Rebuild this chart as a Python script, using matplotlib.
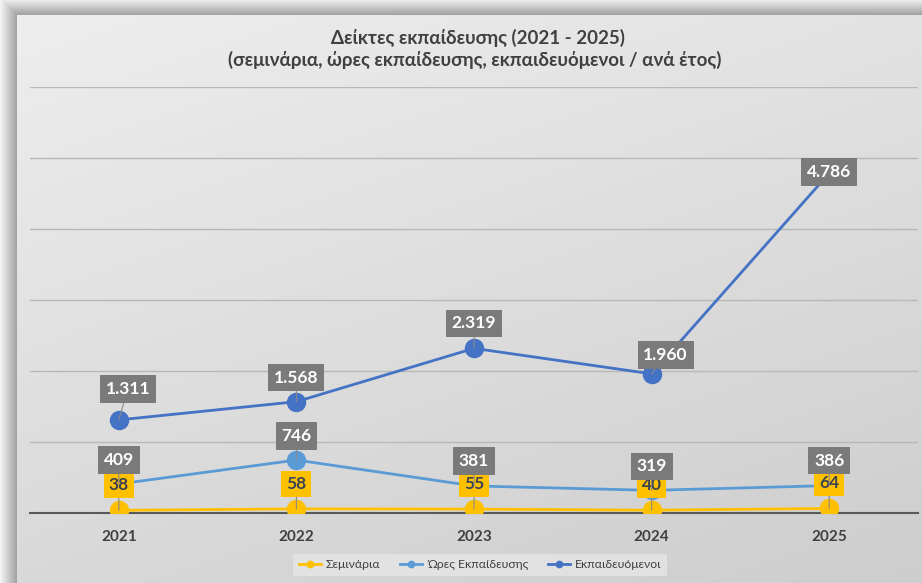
import numpy as np
import matplotlib.pyplot as plt

plt.rcParams['font.family'] = ['Lato', 'DejaVu Sans']

years = ['2021', '2022', '2023', '2024', '2025']
seminaria = [38, 58, 55, 40, 64]
ores = [409, 746, 381, 319, 386]
ekpaideuomenoi = [1311, 1568, 2319, 1960, 4786]

series_names = ['Σεμινάρια', 'Ώρες Εκπαίδευσης', 'Εκπαιδευόμενοι']
colors = ['#FFC000', '#5B9BD5', '#4472C4']

# label offsets in pixels (dx, dy)
off_sem = [(0, 25)] * 5
off_ores = [(0, 24), (0, 24), (0, 25), (0, 24), (0, 25)]
off_ekp = [(9, 31), (0, 24), (0, 25), (14, 19), (0, 1)]

W, H = 922, 583
fig = plt.figure(figsize=(W / 100, H / 100), dpi=100)

# background: shadowed frame + light gradient
bg = fig.add_axes([0, 0, 1, 1])
bg.set_axis_off()
yy, xx = np.mgrid[0:H, 0:W]
grad = 0.935 - 0.085 * (yy / H) - 0.045 * (xx / W)
fx, fy = 17, 15
dx = np.clip(fx - xx, 0, None)
dy = np.clip(fy - yy, 0, None)
d = np.maximum(dx, dy)
shadow = 0.62 + 0.34 * (d / 17.0)
img = np.where((xx >= fx) & (yy >= fy), grad, np.clip(shadow, 0, 0.97))
bg.imshow(np.dstack([img] * 3), extent=[0, W, H, 0], aspect='auto', zorder=0)
bg.set_xlim(0, W)
bg.set_ylim(H, 0)

ax = fig.add_axes([30 / W, 1 - 513 / H, (918 - 30) / W, (513 - 87) / H])
ax.set_facecolor('none')
x = np.arange(len(years))
ax.set_xlim(-0.5, len(years) - 0.5)
ax.set_ylim(0, 6000)
ax.set_yticks(np.arange(0, 6001, 1000))
ax.yaxis.grid(True, color='#b8b8b8', linewidth=1)
ax.set_axisbelow(True)
ax.tick_params(axis='y', left=False, labelleft=False)
ax.tick_params(axis='x', bottom=False, labelsize=11, colors='#404040', pad=9)
ax.set_xticks(x)
ax.set_xticklabels(years, fontweight='bold')
for s in ['top', 'right', 'left']:
    ax.spines[s].set_visible(False)
ax.spines['bottom'].set_color('#595959')
ax.spines['bottom'].set_linewidth(1.5)

all_vals = [seminaria, ores, ekpaideuomenoi]
offsets = [off_sem, off_ores, off_ekp]
for vals, name, c in zip(all_vals, series_names, colors):
    ax.plot(x, vals, color=c, linewidth=2, marker='o', markersize=13,
            label=name, zorder=3)


def fmt(v):
    return f'{v:,}'.replace(',', '.')


for k, (vals, offs) in enumerate(zip(all_vals, offsets)):
    for i, v in enumerate(vals):
        ox, oy = offs[i]
        if k == 0:
            box = dict(boxstyle='square,pad=0.28', fc='#FFC000', ec='none')
            tc = '#3a4352'
        else:
            box = dict(boxstyle='square,pad=0.33', fc='#7a7a7a', ec='none')
            tc = 'white'
        ax.annotate(fmt(v), xy=(i, v), xytext=(ox * 0.72, oy * 0.72),
                    textcoords='offset points', ha='center', va='center',
                    fontsize=12.5, fontweight='bold', color=tc, bbox=box,
                    arrowprops=dict(arrowstyle='-', color='#8a8a8a', lw=0.8,
                                    shrinkA=0, shrinkB=0),
                    zorder=5)

fig.text(478 / W, 1 - 38 / H, 'Δείκτες εκπαίδευσης (2021 - 2025)',
         ha='center', va='center', fontsize=13.5, fontweight='bold', color='#404040')
fig.text(475 / W, 1 - 60 / H,
         '(σεμινάρια, ώρες εκπαίδευσης, εκπαιδευόμενοι / ανά έτος)',
         ha='center', va='center', fontsize=13.5, fontweight='bold', color='#404040')

leg = ax.legend(loc='center', bbox_to_anchor=(480 / W, 1 - 565 / H),
                bbox_transform=fig.transFigure, ncol=3, frameon=True,
                fontsize=8.8, handlelength=1.8, handletextpad=0.4,
                markerscale=0.35, columnspacing=1.6, borderpad=0.45,
                fancybox=False)
leg.get_frame().set_facecolor('#e6e6e6')
leg.get_frame().set_edgecolor('none')
for t in leg.get_texts():
    t.set_color('#404040')
for h in leg.get_lines():
    h.set_linewidth(2)

fig.savefig('out.png', dpi=100)
